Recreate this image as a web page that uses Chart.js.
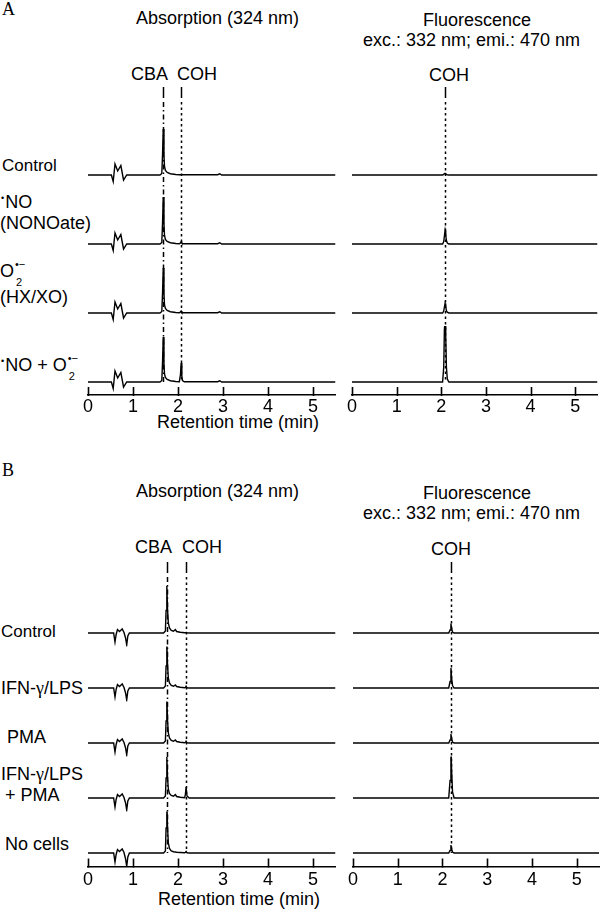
<!DOCTYPE html>
<html>
<head>
<meta charset="utf-8">
<script src="https://cdn.jsdelivr.net/npm/chart.js@4.4.1/dist/chart.umd.min.js"></script>
<style>
html,body{margin:0;padding:0;background:#fff;}
#fig{position:relative;width:600px;height:911px;overflow:hidden;font-family:"Liberation Sans",Arial,sans-serif;color:#000;}
#fig canvas{position:absolute;}
.t{position:absolute;font-size:18px;line-height:18px;white-space:nowrap;}
.serif{font-family:"Liberation Serif","Times New Roman",serif;}
.dot{font-size:9px;position:relative;top:-7px;margin-right:1px;}
.ox{position:relative;display:inline-block;width:13px;height:18px;vertical-align:top;}
.ox .sp{position:absolute;left:1px;top:-3px;font-size:11px;line-height:11px;}
.ox .sb{position:absolute;left:2px;top:15px;font-size:11px;line-height:11px;}
.g{font-family:"Liberation Serif","Times New Roman",serif;}
</style>
</head>
<body>
<div id="fig">
  <!-- panel A texts -->
  <div class="t serif" style="left:2px;top:0px">A</div>
  <div class="t" style="left:136px;top:9px">Absorption (324 nm)</div>
  <div class="t" style="left:423px;top:11px">Fluorescence</div>
  <div class="t" style="left:363px;top:31px">exc.: 332 nm; emi.: 470 nm</div>
  <div class="t" style="left:131px;top:65px">CBA</div>
  <div class="t" style="left:177px;top:65px">COH</div>
  <div class="t" style="left:429px;top:66px">COH</div>
  <div class="t" style="left:2px;top:157px;font-size:17px;line-height:17px">Control</div>
  <div class="t" style="left:1px;top:193px"><span class="dot">•</span>NO</div>
  <div class="t" style="left:0px;top:214px">(NONOate)</div>
  <div class="t" style="left:0px;top:262px">O<span class="ox"><span class="sp">•−</span><span class="sb">2</span></span></div>
  <div class="t" style="left:0px;top:288px">(HX/XO)</div>
  <div class="t" style="left:1px;top:356px"><span class="dot">•</span>NO + O<span class="ox"><span class="sp">•−</span><span class="sb">2</span></span></div>
  <div class="t" style="left:157px;top:413px">Retention time (min)</div>

  <!-- panel B texts -->
  <div class="t serif" style="left:2px;top:461px">B</div>
  <div class="t" style="left:136px;top:482px">Absorption (324 nm)</div>
  <div class="t" style="left:423px;top:484px">Fluorescence</div>
  <div class="t" style="left:363px;top:504px">exc.: 332 nm; emi.: 470 nm</div>
  <div class="t" style="left:135px;top:538px">CBA</div>
  <div class="t" style="left:182px;top:538px">COH</div>
  <div class="t" style="left:431px;top:540px">COH</div>
  <div class="t" style="left:1px;top:623px;font-size:17px;line-height:17px">Control</div>
  <div class="t" style="left:1px;top:679px">IFN-<span class="g">γ</span>/LPS</div>
  <div class="t" style="left:7px;top:728px">PMA</div>
  <div class="t" style="left:1px;top:765px">IFN-<span class="g">γ</span>/LPS</div>
  <div class="t" style="left:5px;top:786px">+ PMA</div>
  <div class="t" style="left:5px;top:835px">No cells</div>
  <div class="t" style="left:158px;top:890px">Retention time (min)</div>
</div>
<script>
// ---- data (signal in arbitrary units, retention time in min) ----
// Panel A, absorption 324 nm
const timesAbsA = [0, 0.52, 0.56, 0.6, 0.66, 0.73, 0.79, 0.86, 1.6, 1.64, 1.657, 1.672, 1.688, 1.7, 1.72, 1.76, 1.83, 1.95, 2.03, 2.055, 2.07, 2.085, 2.1, 2.14, 2.88, 2.93, 2.97, 5.5];
const absA_control = [0, 0, -13, 22, 8, 19, -10, 0, 0, 3, 42, 92, 40, 17, 9, 5, 2.5, 1, 0.6, 0.6, 0.6, 0.6, 0.5, 0.5, 0.5, 2.5, 0, 0];
const absA_no      = [0, 0, -13, 22, 8, 19, -10, 0, 0, 3, 43, 94, 41, 17, 9, 5, 2.5, 1, 0.6, 2, 4.5, 2, 0.6, 0.5, 0.5, 2.5, 0, 0];
const absA_o2      = [0, 0, -13, 22, 8, 19, -10, 0, 0, 3, 41, 90, 39, 16, 9, 5, 2.5, 1, 0.6, 2, 4, 1.5, 0.6, 0.5, 0.5, 2.5, 0, 0];
const absA_both    = [0, 0, -13, 22, 8, 19, -10, 0, 0, 3, 41, 90, 39, 16, 9, 5, 2.5, 1, 0.6, 15, 38, 12, 3, 0.5, 0.5, 2.5, 0, 0];
// Panel A, fluorescence
const timesFlA = [0, 2.03, 2.055, 2.07, 2.085, 2.1, 2.115, 2.135, 2.17, 5.5];
const flA_control = [0, 0, 1, 2.5, 3.5, 2.5, 1, 0.3, 0, 0];
const flA_no      = [0, 0, 5, 16, 27, 18, 7, 2, 0, 0];
const flA_o2      = [0, 0, 4, 12, 19, 13, 5, 1.5, 0, 0];
const flA_both    = [0, 0, 30, 105, 124, 92, 30, 6, 0, 0];
// Panel B, absorption 324 nm
const timesAbsB = [0, 0.57, 0.6, 0.625, 0.655, 0.7, 0.76, 0.8, 0.835, 0.86, 0.885, 0.92, 1.68, 1.72, 1.735, 1.752, 1.768, 1.785, 1.81, 1.85, 1.9, 1.94, 1.97, 2.05, 2.15, 2.165, 2.18, 2.2, 2.25, 5.5];
const absB_control = [0, 0, -18, -3, 7, 3, 8, 1, -10, -24, -6, 0, 0, 4, 45, 94, 46, 20, 10, 5, 3.5, 7, 3, 1.5, 0.5, 0.5, 1, 0.5, 0, 0];
const absB_ifn     = [0, 0, -18, -3, 7, 3, 8, 1, -10, -24, -6, 0, 0, 4, 44, 92, 45, 20, 10, 5, 3.5, 6, 3, 1.5, 0.5, 1, 3.5, 0.5, 0, 0];
const absB_pma     = [0, 0, -18, -3, 7, 3, 8, 1, -10, -24, -6, 0, 0, 4, 44, 92, 45, 20, 10, 5, 3.5, 6, 3, 1.5, 0.5, 1, 3.5, 0.5, 0, 0];
const absB_both    = [0, 0, -18, -3, 7, 3, 8, 1, -10, -24, -6, 0, 0, 4, 40, 82, 40, 18, 9, 5, 3.5, 7, 3, 1.5, 0.5, 8, 22, 4, 0, 0];
const absB_nocells = [0, 0, -18, -3, 7, 3, 8, 1, -12, -27, -8, 0, 0, 4, 50, 104, 50, 20, 9, 4, 2.5, 2, 1.5, 1, 0.5, 1, 3, 0.5, 0, 0];
// Panel B, fluorescence
const timesFlB = [0, 2.14, 2.17, 2.19, 2.205, 2.225, 2.26, 5.5];
const flB_control = [0, 0, 6, 19, 9, 2, 0, 0];
const flB_ifn     = [0, 0, 13, 40, 20, 5, 0, 0];
const flB_pma     = [0, 0, 6, 18, 9, 2, 0, 0];
const flB_both    = [0, 0, 35, 110, 55, 12, 0, 0];
const flB_nocells = [0, 0, 5, 16, 8, 2, 0, 0];
// marker positions (min): CBA, COH
const markersAbsA = [1.672, 2.07];
const markersFlA  = [2.085];
const markersAbsB = [1.752, 2.18];
const markersFlB  = [2.19];
const xMax = 5.5;

// ---- drawing ----
const FONT = '"Liberation Sans", Arial, sans-serif';
const DASH_CBA = [5, 3, 1.5, 3];
const DASH_COH = [2.5, 3];

function pairs(times, values){ return times.map((t,i)=>[t, values[i]]); }

// dashed marker lines behind the traces + inward tick marks on the time axis
function panelDeco(lines, bottomAxis){
	return {
		id: 'panelDeco',
		beforeDatasetsDraw(chart){
			const {ctx, chartArea, scales} = chart;
			const yEnd = scales[bottomAxis].getPixelForValue(0);
			lines.forEach(l=>{
				const x = Math.round(scales.x.getPixelForValue(l.t)) + 0.5;
				ctx.save();
				ctx.strokeStyle = '#000'; ctx.lineWidth = 1.5;
				ctx.beginPath(); ctx.moveTo(x, chartArea.top); ctx.lineTo(x, chartArea.top + 11); ctx.stroke();
				ctx.setLineDash(l.dash);
				ctx.beginPath(); ctx.moveTo(x, chartArea.top + 15); ctx.lineTo(x, yEnd); ctx.stroke();
				ctx.restore();
			});
		},
		afterDatasetsDraw(chart){
			const {ctx, chartArea, scales} = chart;
			ctx.save();
			ctx.strokeStyle = '#000'; ctx.lineWidth = 1.6;
			scales.x.ticks.forEach(tk=>{
				const x = Math.round(scales.x.getPixelForValue(tk.value)) + 0.5;
				ctx.beginPath(); ctx.moveTo(x, chartArea.bottom + 1); ctx.lineTo(x, chartArea.bottom - 8); ctx.stroke();
			});
			ctx.restore();
		}
	};
}

function makePanel(p){
	const cv = document.createElement('canvas');
	cv.width = p.w; cv.height = p.h;
	cv.style.left = p.left + 'px'; cv.style.top = p.top + 'px';
	document.getElementById('fig').appendChild(cv);

	const scales = {
		x: {
			type: 'linear', min: 0, max: xMax, position: 'bottom',
			ticks: { stepSize: 1, includeBounds: false, color: '#000', font: { family: FONT, size: 18 }, padding: p.tickPad, maxRotation: 0, autoSkip: false },
			grid: { drawOnChartArea: false, drawTicks: false },
			border: { color: '#000', width: 1.5 },
			afterFit(s){ s.height = 30; }
		}
	};
	const datasets = [];
	p.traces.forEach((vals, i)=>{
		const id = 'y' + i;
		const span = i === 0 ? p.topSpan : p.slotSpan;
		scales[id] = { type: 'linear', position: 'right', stack: 'traces', stackWeight: span, min: -p.base, max: span - p.base, display: false, afterFit(s){ s.width = 0; } };
		datasets.push({ data: pairs(p.times, vals), yAxisID: id, borderColor: '#000', borderWidth: 1.4, pointRadius: 0, tension: 0, fill: false });
	});

	new Chart(cv.getContext('2d'), {
		type: 'line',
		data: { datasets },
		options: {
			responsive: false, animation: false, devicePixelRatio: 1,
			layout: { padding: p.pad },
			plugins: { legend: { display: false }, tooltip: { enabled: false } },
			scales
		},
		plugins: [ panelDeco(p.lines, 'y' + (p.traces.length - 1)) ]
	});
}

makePanel({ left: 60, top: 77, w: 290, h: 358, pad: { top: 10, left: 28, right: 14.5, bottom: 10 }, tickPad: 1.5,
	base: 26, slotSpan: 138, topSpan: 202, times: timesAbsA,
	traces: [absA_control, absA_no, absA_o2, absA_both],
	lines: [{ t: markersAbsA[0], dash: DASH_CBA }, { t: markersAbsA[1], dash: DASH_COH }] });
makePanel({ left: 330, top: 77, w: 270, h: 358, pad: { top: 10, left: 22, right: 2.5, bottom: 10 }, tickPad: 1.5,
	base: 26, slotSpan: 138, topSpan: 202, times: timesFlA,
	traces: [flA_control, flA_no, flA_o2, flA_both],
	lines: [{ t: markersFlA[0], dash: DASH_COH }] });
makePanel({ left: 60, top: 552, w: 290, h: 348, pad: { top: 10, left: 28, right: 14.5, bottom: 3.5 }, tickPad: 3,
	base: 27, slotSpan: 110, topSpan: 169, times: timesAbsB,
	traces: [absB_control, absB_ifn, absB_pma, absB_both, absB_nocells],
	lines: [{ t: markersAbsB[0], dash: DASH_CBA }, { t: markersAbsB[1], dash: DASH_COH }] });
makePanel({ left: 330, top: 552, w: 270, h: 348, pad: { top: 10, left: 23, right: 1, bottom: 3.5 }, tickPad: 3,
	base: 27, slotSpan: 110, topSpan: 169, times: timesFlB,
	traces: [flB_control, flB_ifn, flB_pma, flB_both, flB_nocells],
	lines: [{ t: markersFlB[0], dash: DASH_COH }] });
</script>
</body>
</html>
